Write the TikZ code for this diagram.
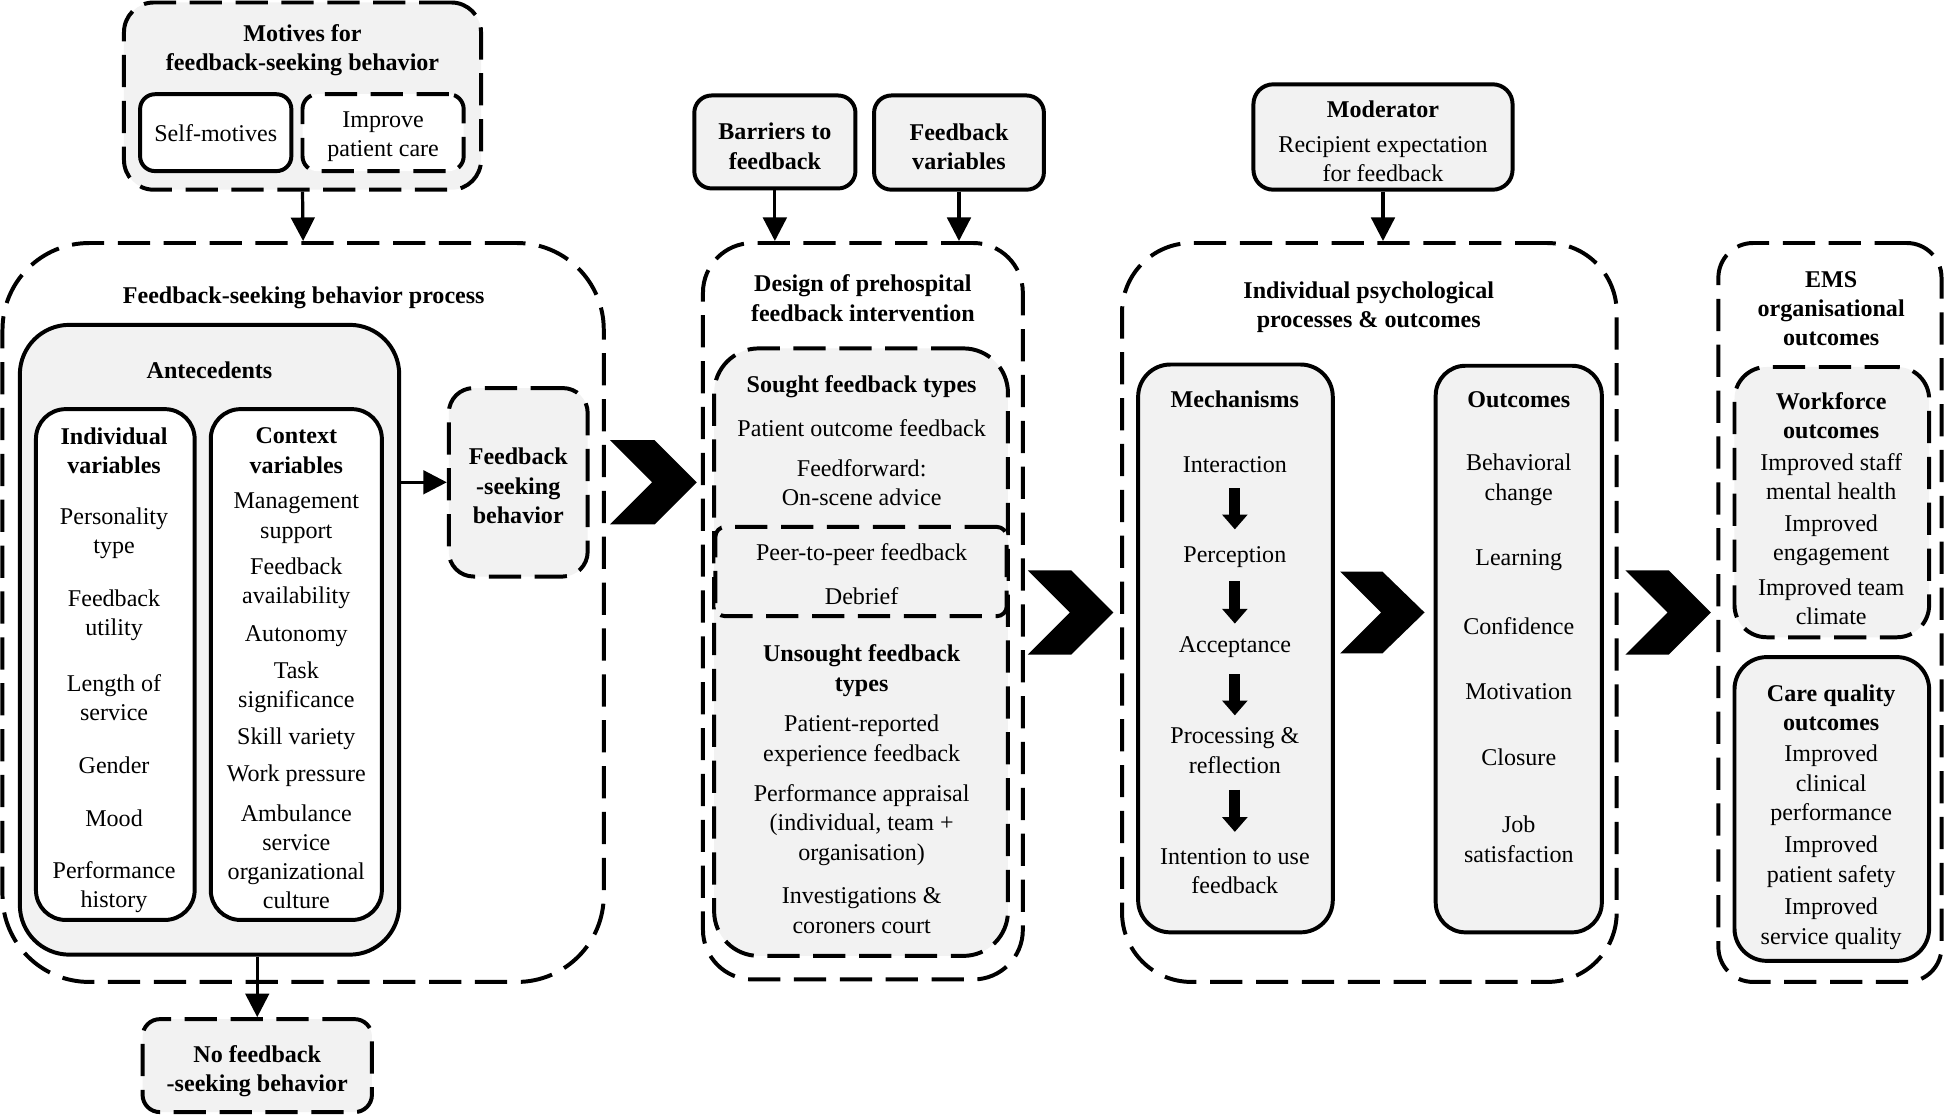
\documentclass[tikz,border=0pt]{standalone}
\usepackage{fontspec}
\setmainfont{Liberation Serif}
\usetikzlibrary{arrows.meta,calc}
\definecolor{boxgray}{RGB}{242,242,242}
\begin{document}
\begin{tikzpicture}[x=0.5pt,y=-0.5pt,
  font=\fontsize{9.7}{11.8}\selectfont,
  base/.style={inner sep=0pt, line width=1.6pt, align=center},
  dbox/.style={base, draw, dash pattern=on 13pt off 5.5pt},
  sbox/.style={base, draw},
  gfill/.style={fill=boxgray},
  wfill/.style={fill=white},
  txt/.style={align=center, inner sep=0pt, yshift=-1pt},
  ttl/.style={txt, font=\fontsize{9.7}{11.8}\selectfont\bfseries},
  arr/.style={line width=1.3pt, -{Triangle[width=9.5pt,length=9.5pt]}},
  blk/.style={line width=4.5pt, -{Triangle[width=10pt,length=6pt]}},
  chev/.style={fill=black}
]
\useasboundingbox (0,0) rectangle (1568,901);

% ---------- Motives ----------
\node[dbox,gfill,minimum width=144pt,minimum height=75.5pt,rounded corners=12pt] (motives) at (244,77.5) {};
\node[ttl] (mottitle) at (244,38.5) {Motives for\\feedback-seeking behavior};
\node[sbox,wfill,minimum width=61pt,minimum height=31pt,rounded corners=6pt] (selfm) at (174,107) {Self-motives};
\node[dbox,wfill,minimum width=65pt,minimum height=31pt,rounded corners=6pt] (improve) at (309,107) {};
\node[txt] (improvetext) at (309,108) {Improve\\patient care};

% ---------- Feedback-seeking behavior process ----------
\node[dbox,wfill,minimum width=242.5pt,minimum height=298pt,rounded corners=35pt] (fsbp) at (244.5,494) {};
\node[ttl] (fsbptitle) at (245,238) {Feedback-seeking behavior process};
\node[sbox,gfill,minimum width=153pt,minimum height=254pt,rounded corners=20pt] (antec) at (169,516) {};
\node[ttl] (antectitle) at (169,297) {Antecedents};

\node[sbox,wfill,minimum width=64pt,minimum height=206pt,rounded corners=12pt] (indiv) at (93,536) {};
\node[ttl] (indivtitle) at (92,361.5) {Individual\\variables};
\node[txt] (i1) at (92,428) {Personality\\type};
\node[txt] (i2) at (92,494.5) {Feedback\\utility};
\node[txt] (i3) at (92,560.5) {Length of\\service};
\node[txt] (i4) at (92,615) {Gender};
\node[txt] (i5) at (92,658) {Mood};
\node[txt] (i6) at (92,713.5) {Performance\\history};

\node[sbox,wfill,minimum width=69pt,minimum height=206pt,rounded corners=12pt] (context) at (239,536) {};
\node[ttl] (contexttitle) at (239,361.5) {Context\\variables};
\node[txt] (c1) at (239,416) {Management\\support};
\node[txt] (c2) at (239,468.5) {Feedback\\availability};
\node[txt] (c3) at (239,511) {Autonomy};
\node[txt] (c4) at (239,552.5) {Task\\significance};
\node[txt] (c5) at (239,594) {Skill variety};
\node[txt] (c6) at (239,624) {Work pressure};
\node[txt] (c7) at (239,689) {Ambulance\\service\\organizational\\culture};

\node[dbox,gfill,minimum width=56pt,minimum height=76pt,rounded corners=10pt] (fsb) at (418,389) {};
\node[ttl] (fsbtext) at (418,390) {Feedback\\-seeking\\behavior};

\node[dbox,gfill,minimum width=92.5pt,minimum height=37.5pt,rounded corners=7pt] (nofsb) at (207.5,859.5) {};
\node[ttl] (nofsbtext) at (207.5,862) {No feedback\\-seeking behavior};

\draw[arr] (motives.south) -- (fsbp.north);
\draw[arr] (antec.east |- fsb.west) -- (fsb.west);
\draw[arr] (nofsb.north |- antec.south) -- (nofsb.north);

% ---------- Design of prehospital feedback intervention ----------
\node[sbox,gfill,minimum width=65pt,minimum height=37.5pt,rounded corners=7pt] (barriers) at (625,114.5) {};
\node[ttl] (barrierstext) at (625,116) {Barriers to\\feedback};
\node[sbox,gfill,minimum width=68.5pt,minimum height=38pt,rounded corners=7pt] (fbvars) at (773.5,115) {};
\node[ttl] (fbvarstext) at (773.5,116.5) {Feedback\\variables};

\node[dbox,wfill,minimum width=129pt,minimum height=297pt,rounded corners=20pt] (design) at (696,493) {};
\node[ttl] (designtitle) at (696,238.5) {Design of prehospital\\feedback intervention};

\node[dbox,gfill,minimum width=118.5pt,minimum height=245pt,rounded corners=18pt] (sought) at (694.5,526) {};
\node[dbox,gfill,minimum width=117.5pt,minimum height=36pt,rounded corners=4pt] (peer) at (694.5,461) {};

\node[ttl] (soughttitle) at (695,310) {Sought feedback types};
\node[txt] (s1) at (695,343) {Patient outcome feedback};
\node[txt] (s2) at (695,387.5) {Feedforward:\\On-scene advice};
\node[txt] (p1) at (695,445) {Peer-to-peer feedback};
\node[txt] (p2) at (695,479) {Debrief};
\node[ttl] (unsoughttitle) at (695,539) {Unsought feedback\\types};
\node[txt] (u1) at (695,595.5) {Patient-reported\\experience feedback};
\node[txt] (u2) at (695,663.5) {Performance appraisal\\(individual, team +\\organisation)};
\node[txt] (u3) at (695,732.5) {Investigations \&\\coroners court};

\draw[arr] (barriers.south) -- (barriers.south |- design.north);
\draw[arr] (fbvars.south) -- (fbvars.south |- design.north);

% ---------- Individual psychological processes & outcomes ----------
\node[sbox,gfill,minimum width=104.5pt,minimum height=42.5pt,rounded corners=8pt] (moderator) at (1115.5,110.5) {};
\node[txt] (modtext) at (1115.5,112) {\textbf{Moderator}\\[2.5pt]Recipient expectation\\for feedback};

\node[dbox,wfill,minimum width=199.5pt,minimum height=298pt,rounded corners=28pt] (ipp) at (1104.5,494) {};
\node[ttl] (ipptitle) at (1104,246) {Individual psychological\\processes \& outcomes};

\node[sbox,gfill,minimum width=78.5pt,minimum height=229pt,rounded corners=13pt] (mech) at (996.5,523) {};
\node[ttl] (mechtitle) at (996,320) {Mechanisms};
\node[txt] (m1) at (996,373) {Interaction};
\node[txt] (m2) at (996,447) {Perception};
\node[txt] (m3) at (996,520) {Acceptance};
\node[txt] (m4) at (996,603.5) {Processing \&\\reflection};
\node[txt] (m5) at (996,700.5) {Intention to use\\feedback};
\draw[blk, shorten <=9.5pt, shorten >=11pt] (m1.center) -- (m2.center);
\draw[blk, shorten <=10pt, shorten >=9.5pt] (m2.center) -- (m3.center);
\draw[blk, shorten <=11pt, shorten >=14.25pt] (m3.center) -- (m4.center);
\draw[blk, shorten <=15.75pt, shorten >=15.75pt] (m4.center) -- (m5.center);

\node[sbox,gfill,minimum width=67pt,minimum height=228.5pt,rounded corners=12pt] (outc) at (1225,523.5) {};
\node[ttl] (outctitle) at (1225,320) {Outcomes};
\node[txt] (o1) at (1225,385) {Behavioral\\change};
\node[txt] (o2) at (1225,450) {Learning};
\node[txt] (o3) at (1225,503) {Confidence};
\node[txt] (o4) at (1225,556) {Motivation};
\node[txt] (o5) at (1225,609) {Closure};
\node[txt] (o6) at (1225,675) {Job\\satisfaction};

\draw[arr] (moderator.south) -- (moderator.south |- ipp.north);

% ---------- EMS organisational outcomes ----------
\node[dbox,wfill,minimum width=90pt,minimum height=298pt,rounded corners=14pt] (ems) at (1476,494) {};
\node[ttl] (emstitle) at (1477,247) {EMS\\organisational\\outcomes};

\node[dbox,gfill,minimum width=78.5pt,minimum height=109pt,rounded corners=13pt] (workforce) at (1477.5,405) {};
\node[ttl] (wftitle) at (1477,333) {Workforce\\outcomes};
\node[txt] (w1) at (1477,382.5) {Improved staff\\mental health};
\node[txt] (w2) at (1477,433.5) {Improved\\engagement};
\node[txt] (w3) at (1477,483.5) {Improved team\\climate};

\node[sbox,gfill,minimum width=78.5pt,minimum height=122.5pt,rounded corners=13pt] (careq) at (1477.5,652.5) {};
\node[ttl] (cqtitle) at (1477,569) {Care quality\\outcomes};
\node[txt] (q1) at (1477,631.5) {Improved\\clinical\\performance};
\node[txt] (q2) at (1477,693) {Improved\\patient safety};
\node[txt] (q3) at (1477,743) {Improved\\service quality};

% ---------- Chevrons ----------
\fill[chev] (492,355) -- (528,355) -- (562,389) -- (528,423) -- (492,423) -- (526,389) -- cycle;
\fill[chev] (829,460) -- (864,460) -- (898,494) -- (864,528) -- (829,528) -- (863,494) -- cycle;
\fill[chev] (1081,461) -- (1115,461) -- (1149,494) -- (1115,527) -- (1081,527) -- (1114,494) -- cycle;
\fill[chev] (1311,460) -- (1346,460) -- (1380,494) -- (1346,528) -- (1311,528) -- (1345,494) -- cycle;
\end{tikzpicture}
\end{document}
